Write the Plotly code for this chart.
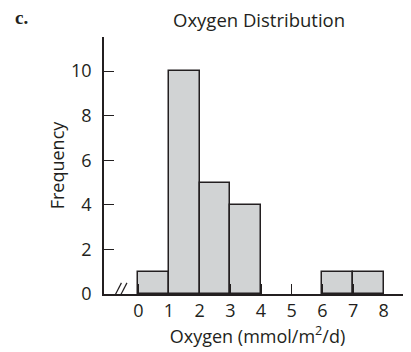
import plotly.graph_objects as go

# bin edges 0..8, counts per 1-unit bin
bin_left = [0, 1, 2, 3, 4, 5, 6, 7]
counts = [1, 10, 5, 4, 0, 0, 1, 1]
x_ticks = [0, 1, 2, 3, 4, 5, 6, 7, 8]
y_ticks = [0, 2, 4, 6, 8, 10]

font = "Open Sans"
ink = "#231f20"

fig = go.Figure()
fig.add_trace(go.Bar(
    x=[b + 0.5 for b in bin_left],
    y=[c if c > 0 else None for c in counts],
    width=1,
    marker=dict(color="#d1d3d4", line=dict(color=ink, width=1.5)),
    showlegend=False,
))

# axis break mark "//" near the origin
for dx in [0, 0.18]:
    fig.add_shape(type="line", xref="x", yref="y",
                  x0=-0.85 + dx, y0=-0.3, x1=-0.55 + dx, y1=0.5,
                  line=dict(color=ink, width=1.2))

fig.add_annotation(text="<b>c.</b>", xref="paper", yref="paper",
                   x=-0.295, y=1.074, xanchor="left", yanchor="middle", showarrow=False,
                   font=dict(family="Liberation Serif", size=19, color=ink))

# the page body adds a small offset, so the figure is a little smaller than the window
fig.update_layout(
    width=403, height=345,
    margin=dict(l=96, r=0, t=29, b=59),
    paper_bgcolor="white", plot_bgcolor="white",
    bargap=0,
    font=dict(family=font, size=18, color=ink),
    title=dict(text="Oxygen Distribution", x=0.623, xanchor="center", y=0.965,
               yanchor="middle", font=dict(size=18.5)),
)
fig.update_xaxes(
    range=[-1.118, 8.89], tickvals=x_ticks, ticks="inside", ticklen=10,
    tickcolor=ink, tickwidth=1.2, showline=True, linecolor=ink, linewidth=1.5,
    showgrid=False, zeroline=False, tickfont=dict(size=18), automargin=False,
    ticklabelstandoff=0,
    title=dict(text="Oxygen (mmol/m<sup>2</sup>/d)", font=dict(size=18), standoff=9),
)
fig.update_yaxes(
    range=[0, 11.53], tickvals=y_ticks, ticks="inside", ticklen=10,
    tickcolor=ink, tickwidth=1.2, showline=True, linecolor=ink, linewidth=1.5,
    showgrid=False, zeroline=False, tickfont=dict(size=18), automargin=False,
    ticklabelstandoff=7,
    title=dict(text="Frequency", font=dict(size=18), standoff=2),
)

fig.write_html("out.html")
